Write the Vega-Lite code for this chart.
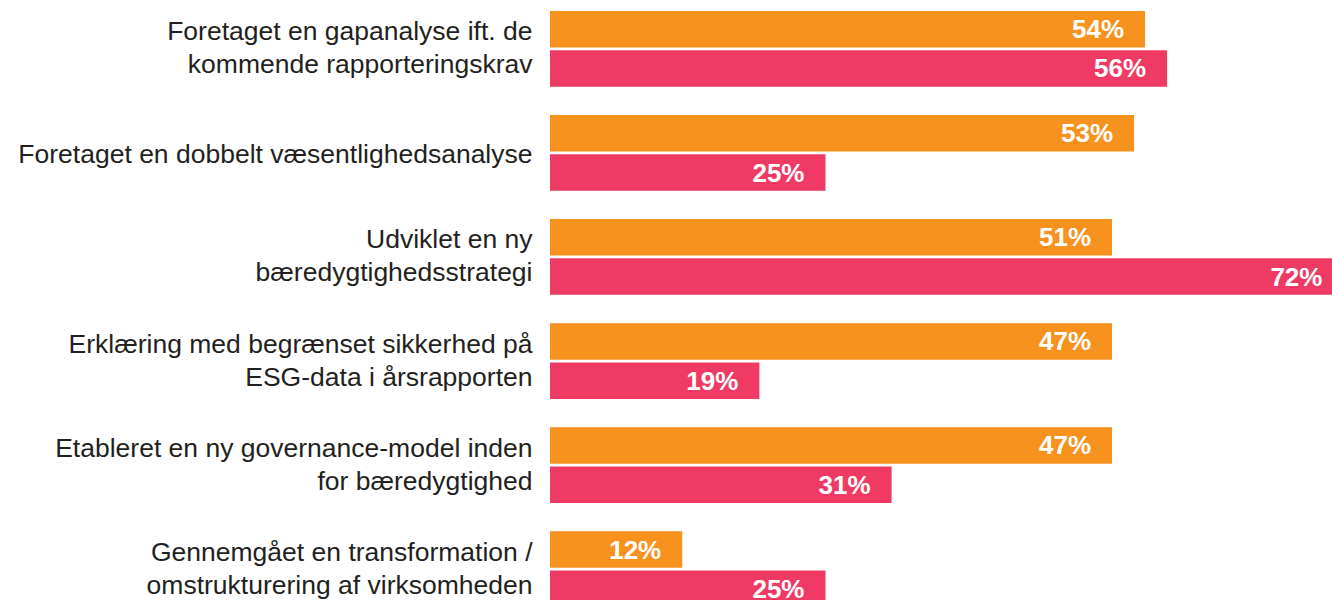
{
  "$schema": "https://vega.github.io/schema/vega-lite/v6.json",
  "autosize": "none",
  "padding": {"left": 550, "top": 11, "right": 0, "bottom": 0},
  "width": 1102,
  "height": 596,
  "background": "white",
  "config": {"view": {"stroke": null}},
  "data": {
    "values": [
      {"cat": "Foretaget en gapanalyse ift. de|kommende rapporteringskrav", "series": "a", "length": 54, "label": "54%"},
      {"cat": "Foretaget en gapanalyse ift. de|kommende rapporteringskrav", "series": "b", "length": 56, "label": "56%"},
      {"cat": "Foretaget en dobbelt væsentlighedsanalyse", "series": "a", "length": 53, "label": "53%"},
      {"cat": "Foretaget en dobbelt væsentlighedsanalyse", "series": "b", "length": 25, "label": "25%"},
      {"cat": "Udviklet en ny|bæredygtighedsstrategi", "series": "a", "length": 51, "label": "51%"},
      {"cat": "Udviklet en ny|bæredygtighedsstrategi", "series": "b", "length": 72, "label": "72%"},
      {"cat": "Erklæring med begrænset sikkerhed på|ESG-data i årsrapporten", "series": "a", "length": 51, "label": "47%"},
      {"cat": "Erklæring med begrænset sikkerhed på|ESG-data i årsrapporten", "series": "b", "length": 19, "label": "19%"},
      {"cat": "Etableret en ny governance-model inden|for bæredygtighed", "series": "a", "length": 51, "label": "47%"},
      {"cat": "Etableret en ny governance-model inden|for bæredygtighed", "series": "b", "length": 31, "label": "31%"},
      {"cat": "Gennemgået en transformation /|omstrukturering af virksomheden", "series": "a", "length": 12, "label": "12%"},
      {"cat": "Gennemgået en transformation /|omstrukturering af virksomheden", "series": "b", "length": 25, "label": "25%"}
    ]
  },
  "encoding": {
    "y": {
      "field": "cat",
      "type": "nominal",
      "sort": null,
      "scale": {"paddingInner": 0.272, "paddingOuter": 0},
      "axis": {
        "title": null,
        "ticks": false,
        "domain": false,
        "labelExpr": "split(datum.label, '|')",
        "labelFont": "Liberation Sans",
        "labelFontSize": 26.5,
        "labelColor": "#231F20",
        "labelLineHeight": 33,
        "labelPadding": 18,
        "labelLimit": 600,
        "labelOffset": {"condition": {"test": "indexof(datum.value, '|') >= 0", "value": -16.5}, "value": 2}
      }
    },
    "yOffset": {"field": "series", "type": "nominal", "sort": ["a", "b"], "scale": {"paddingInner": 0.07}},
    "x": {"field": "length", "type": "quantitative", "scale": {"domain": [0, 100]}, "axis": null}
  },
  "layer": [
    {
      "mark": {"type": "bar"},
      "encoding": {
        "color": {"field": "series", "type": "nominal", "scale": {"domain": ["a", "b"], "range": ["#F7921E", "#EF3A64"]}, "legend": null}
      }
    },
    {
      "mark": {"type": "text", "align": "right", "baseline": "middle", "dx": -21, "dy": 1, "font": "Liberation Sans", "fontWeight": "bold", "fontSize": 26, "color": "white"},
      "encoding": {"text": {"field": "label"}}
    }
  ]
}
